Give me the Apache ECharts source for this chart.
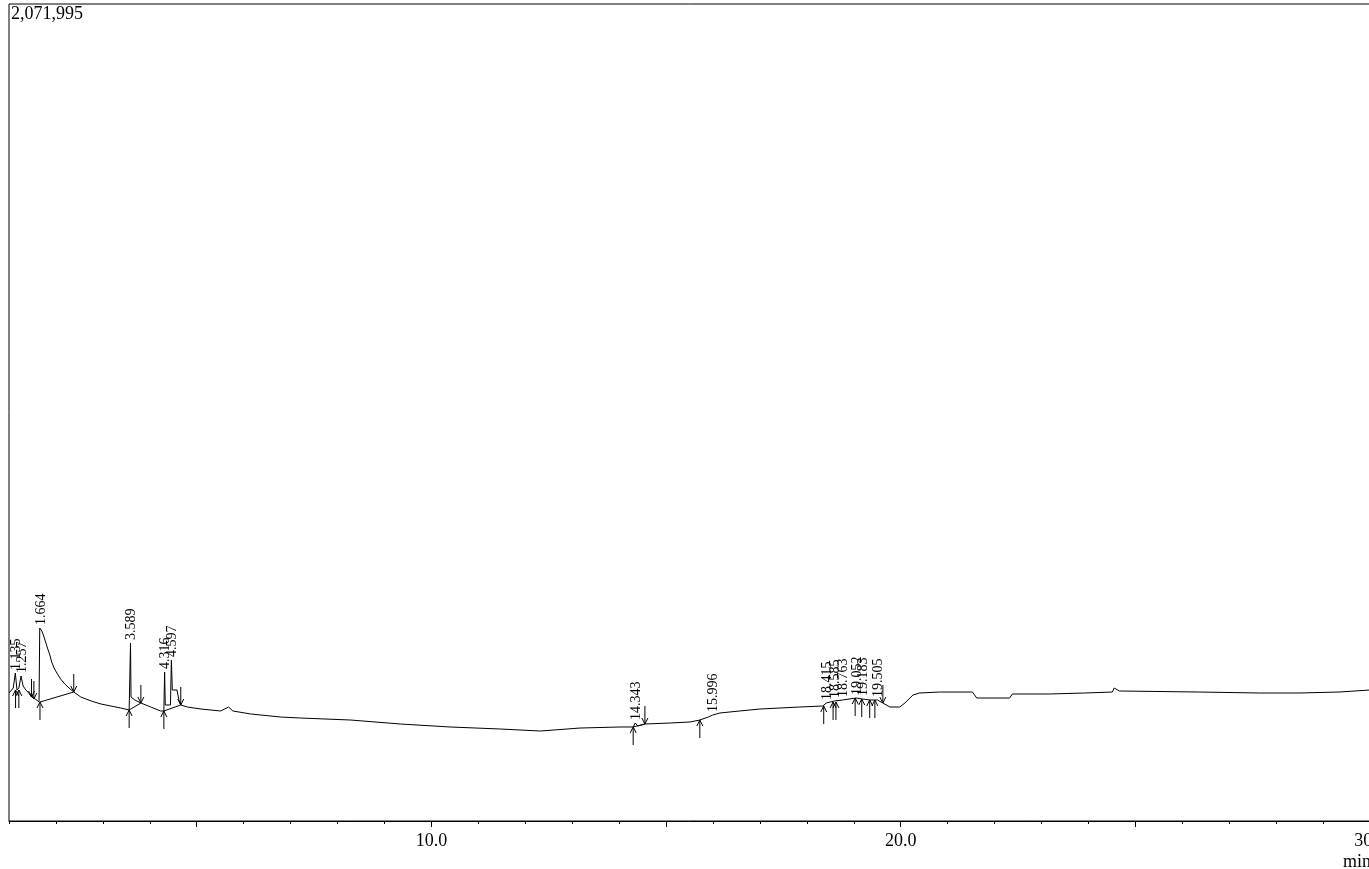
<!DOCTYPE html>
<html>
<head>
<meta charset="utf-8">
<script src="https://cdn.jsdelivr.net/npm/echarts@6/dist/echarts.min.js"></script>
<style>
  html, body { margin: 0; padding: 0; overflow: hidden; background: #fff; }
  #chart { width: 1370px; height: 869px; }
</style>
</head>
<body>
<div id="chart"></div>
<script>
// detector signal (uV) against retention time (min)
const yMax = 2071995;

const times = [1.00, 1.09, 1.135, 1.17, 1.21, 1.257, 1.30, 1.36, 1.42, 1.48, 1.56, 1.64, 1.655, 1.664, 1.70, 1.74, 1.78, 1.82, 1.87, 1.91, 1.96, 2.02, 2.10, 2.19, 2.28, 2.38, 2.53, 2.75, 2.96, 3.17, 3.38, 3.56, 3.589, 3.60, 3.68, 3.81, 4.02, 4.23, 4.30, 4.316, 4.33, 4.44, 4.46, 4.48, 4.58, 4.62, 4.66, 4.80, 5.09, 5.51, 5.68, 5.77, 6.15, 6.79, 7.21, 8.28, 9.34, 10.40, 11.47, 12.32, 13.17, 14.02, 14.30, 14.343, 14.40, 14.55, 15.09, 15.51, 15.72, 15.90, 15.996, 16.15, 16.57, 17.00, 17.85, 18.34, 18.415, 18.50, 18.585, 18.763, 18.90, 19.052, 19.183, 19.35, 19.505, 19.62, 19.77, 19.98, 20.09, 20.26, 20.40, 20.83, 21.53, 21.62, 22.32, 22.38, 23.17, 23.92, 24.51, 24.55, 24.66, 26.36, 27.64, 28.49, 29.34, 30.00];
const signal = [324600, 337300, 375300, 332200, 337300, 367700, 342400, 332200, 324600, 314500, 309400, 301800, 489400, 489400, 481800, 469200, 453900, 438700, 421000, 403200, 388000, 375300, 360100, 347400, 337300, 327100, 314500, 304300, 296700, 291600, 286600, 281500, 451400, 314500, 306900, 299200, 289100, 279000, 279000, 377900, 294200, 294200, 408300, 332200, 332200, 306900, 294200, 289100, 284000, 279000, 289100, 279000, 271400, 263700, 261200, 256100, 246000, 238400, 233300, 228200, 235800, 238400, 238400, 248500, 240900, 246000, 248500, 251100, 256100, 263700, 268800, 273900, 279000, 284000, 289100, 291600, 299200, 301800, 304300, 306900, 309400, 311900, 309400, 306900, 306900, 299200, 289100, 289100, 299200, 319500, 324600, 327100, 327100, 311900, 311900, 322100, 322100, 324600, 327100, 337300, 329700, 327100, 324600, 324600, 327100, 332200];

// peak labels (retention times) and where their tops sit
const peakLabels = ['1.135', '1.257', '1.664', '3.589', '4.316', '4.597', '14.343', '15.996', '18.415', '18.585', '18.763', '19.052', '19.183', '19.505'];
const peakTimes = [1.135, 1.257, 1.664, 3.589, 4.316, 4.46, 14.343, 15.996, 18.415, 18.585, 18.763, 19.052, 19.183, 19.505];
const peakTops = [375300, 367700, 489400, 451400, 377900, 408300, 248500, 268800, 299200, 304300, 306900, 311900, 309400, 306900];

// integration marks: 1 = start (arrow from below), -1 = end (arrow from above)
const markTimes = [1.14, 1.21, 1.48, 1.53, 1.66, 2.38, 3.56, 3.81, 4.30, 4.66, 14.30, 14.55, 15.72, 18.36, 18.56, 18.62, 19.03, 19.17, 19.34, 19.45, 19.62];
const markValues = [332200, 332200, 314500, 309400, 301800, 327100, 281500, 299200, 279000, 294200, 238400, 246000, 256100, 291600, 301800, 301800, 311900, 309400, 306900, 306900, 299200];
const markDirs = [1, 1, -1, -1, 1, -1, 1, -1, 1, -1, 1, -1, 1, 1, 1, 1, 1, 1, 1, 1, -1];

// drawn baselines
const baseStartTimes = [1.66, 3.56, 4.30, 14.30];
const baseStartValues = [301800, 281500, 279000, 238400];
const baseEndTimes = [2.38, 3.81, 4.66, 14.55];
const baseEndValues = [327100, 299200, 294200, 246000];

// axis ticks
const minorTickValues = [1, 2, 3, 4, 5, 6, 7, 8, 9, 10, 11, 12, 13, 14, 15, 16, 17, 18, 19, 20, 21, 22, 23, 24, 25, 26, 27, 28, 29, 30];
const majorTickValues = [5, 10, 15, 20, 25, 30];
const labelValues = [10, 20, 30];

const serif = 'Liberation Serif';
const chart = echarts.init(document.getElementById('chart'));

let option = {
  animation: false,
  title: {
    text: yMax.toLocaleString('en-US'),
    left: 11, top: 5, padding: 0,
    textStyle: { fontFamily: serif, fontSize: 18, fontWeight: 'normal', color: '#000' }
  },
  grid: {
    left: 9, right: 0, top: 4, bottom: 48,
    outerBoundsMode: 'none', containLabel: false,
    show: true, borderColor: '#000', borderWidth: 1
  },
  xAxis: [
    {
      type: 'value', min: 1, max: 30, interval: 1,
      axisLine: { lineStyle: { color: '#000', width: 1 } },
      axisTick: { customValues: minorTickValues, length: 3, lineStyle: { color: '#000' } },
      axisLabel: {
        customValues: labelValues, margin: 11, showMaxLabel: true, hideOverlap: false,
        formatter: v => v.toFixed(1),
        fontFamily: serif, fontSize: 18, color: '#000'
      },
      splitLine: { show: false },
      name: 'min', nameLocation: 'end', nameGap: -27,
      nameTextStyle: { fontFamily: serif, fontSize: 18, color: '#000', align: 'left', verticalAlign: 'top', padding: [32, 0, 0, 0] }
    },
    {
      type: 'value', min: 1, max: 30, position: 'bottom',
      axisLine: { show: false },
      axisTick: { customValues: majorTickValues, length: 6, lineStyle: { color: '#000' } },
      axisLabel: { show: false },
      splitLine: { show: false }
    }
  ],
  yAxis: {
    type: 'value', min: 0, max: yMax,
    axisLine: { show: false }, axisTick: { show: false },
    axisLabel: { show: false }, splitLine: { show: false }
  },
  series: [
    {
      type: 'line',
      smooth: false,
      data: times.map((t, i) => [t, signal[i]]),
      showSymbol: false,
      lineStyle: { color: '#000', width: 1 },
      z: 3
    },
    {
      type: 'custom',
      data: baseStartTimes.map((t, i) => [t, baseStartValues[i], baseEndTimes[i], baseEndValues[i]]),
      renderItem: function (params, api) {
        const a = api.coord([api.value(0), api.value(1)]);
        const b = api.coord([api.value(2), api.value(3)]);
        return {
          type: 'line',
          shape: { x1: a[0], y1: a[1], x2: b[0], y2: b[1] },
          style: { stroke: '#000', lineWidth: 1 }
        };
      },
      z: 2
    },
    {
      type: 'custom',
      data: markTimes.map((t, i) => [t, markValues[i]]),
      renderItem: function (params, api) {
        const p = api.coord([api.value(0), api.value(1)]);
        const s = markDirs[params.dataIndex];
        return {
          type: 'group',
          children: [
            { type: 'line', shape: { x1: p[0], y1: p[1], x2: p[0], y2: p[1] + s * 18 }, style: { stroke: '#000', lineWidth: 1 } },
            { type: 'polyline', shape: { points: [[p[0] - 3, p[1] + s * 6], [p[0], p[1]], [p[0] + 3, p[1] + s * 6]] }, style: { stroke: '#000', lineWidth: 1, fill: null } }
          ]
        };
      },
      z: 2
    },
    {
      type: 'custom',
      data: peakTimes.map((t, i) => [t, peakTops[i]]),
      renderItem: function (params, api) {
        const p = api.coord([api.value(0), api.value(1)]);
        return {
          type: 'text',
          x: p[0] + 1,
          y: p[1] - 3,
          rotation: Math.PI / 2,
          style: {
            text: peakLabels[params.dataIndex],
            fontFamily: serif, fontSize: 14, fill: '#000',
            align: 'left', verticalAlign: 'middle'
          }
        };
      },
      z: 4
    }
  ]
};

option && chart.setOption(option);
</script>
</body>
</html>
